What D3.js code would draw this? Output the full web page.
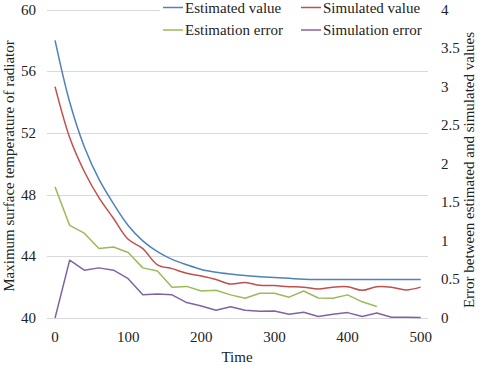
<!DOCTYPE html>
<html lang="en">
<head>
    <meta charset="UTF-8">
    <title>Radiator temperature: estimated vs simulated</title>
    <script src="https://d3js.org/d3.v7.min.js"></script>
    <style>
        body { margin: 0; background: #fff; }
        svg { display: block; }
        text { font-family: "Liberation Serif", "Times New Roman", serif; fill: #222; }
        .grid line { stroke: #d9d9d9; stroke-width: 1; }
        .tick-label { font-size: 15px; }
        .title { font-size: 15px; }
        .legend text { font-size: 15px; }
    </style>
</head>
<body>
    <svg id="chart"></svg>

    <script>
        // time steps
        const times = [0, 20, 40, 60, 80, 100, 120, 140, 160, 180, 200, 220, 240, 260,
                       280, 300, 320, 340, 360, 380, 400, 420, 440, 460, 480, 500];

        // left axis series (temperature)
        const estimatedValue = [58, 54.0, 51.1, 49.0, 47.4, 46.0, 45.0, 44.3, 43.8, 43.45, 43.15,
                                42.97, 42.85, 42.75, 42.68, 42.62, 42.57, 42.52, 42.5, 42.5,
                                42.5, 42.5, 42.5, 42.5, 42.5, 42.5];
        const simulatedValue = [55, 51.7, 49.5, 47.8, 46.45, 45.1, 44.5, 43.45, 43.2, 42.9, 42.72,
                                42.5, 42.2, 42.3, 42.12, 42.1, 42.03, 42.0, 41.88, 42.0,
                                42.03, 41.8, 42.03, 42.0, 41.82, 42.0];

        // right axis series (errors); estimation error stops at 440
        const estimationError = [1.7, 1.2, 1.1, 0.9, 0.92, 0.85, 0.65, 0.61, 0.40, 0.41, 0.35,
                                 0.36, 0.30, 0.255, 0.32, 0.32, 0.27, 0.35, 0.26, 0.255,
                                 0.30, 0.21, 0.15];
        const simulationError = [0, 0.75, 0.62, 0.65, 0.62, 0.51, 0.30, 0.31, 0.30, 0.20, 0.155,
                                 0.10, 0.145, 0.10, 0.087, 0.09, 0.05, 0.075, 0.02, 0.05,
                                 0.07, 0.02, 0.065, 0.01, 0.01, 0.005];

        const xTicks = [0, 100, 200, 300, 400, 500];
        const leftTicks = [40, 44, 48, 52, 56, 60];
        const rightTicks = [0, 0.5, 1, 1.5, 2, 2.5, 3, 3.5, 4];

        const width = 480, height = 365;

        const svg = d3.select("#chart")
            .attr("width", width)
            .attr("height", height);

        // plot area runs a bit past the data on both sides (like the original)
        const x = d3.scaleLinear().domain([-11, 510]).range([47, 428]);
        const yLeft = d3.scaleLinear().domain([40, 60]).range([318, 9.5]);
        const yRight = d3.scaleLinear().domain([0, 4]).range([318, 9.5]);

        // horizontal gridlines
        svg.append("g").attr("class", "grid")
            .selectAll("line")
            .data(leftTicks)
            .enter().append("line")
            .attr("x1", x(-11))
            .attr("x2", x(510))
            .attr("y1", d => Math.round(yLeft(d)) + 0.5)
            .attr("y2", d => Math.round(yLeft(d)) + 0.5);

        // left tick labels
        svg.append("g")
            .selectAll("text")
            .data(leftTicks)
            .enter().append("text")
            .attr("class", "tick-label")
            .attr("x", 36)
            .attr("y", d => yLeft(d) + 5)
            .attr("text-anchor", "end")
            .text(d => d);

        // right tick labels
        svg.append("g")
            .selectAll("text")
            .data(rightTicks)
            .enter().append("text")
            .attr("class", "tick-label")
            .attr("x", 441)
            .attr("y", d => yRight(d) + 5)
            .attr("text-anchor", "start")
            .text(d => d);

        // x tick labels
        svg.append("g")
            .selectAll("text")
            .data(xTicks)
            .enter().append("text")
            .attr("class", "tick-label")
            .attr("x", d => x(d))
            .attr("y", 342)
            .attr("text-anchor", "middle")
            .text(d => d);

        // axis titles
        svg.append("text")
            .attr("class", "title")
            .attr("x", 237)
            .attr("y", 362)
            .attr("text-anchor", "middle")
            .text("Time");

        svg.append("text")
            .attr("class", "title")
            .attr("transform", "translate(14,166) rotate(-90)")
            .attr("text-anchor", "middle")
            .text("Maximum surface temperature of radiator");

        svg.append("text")
            .attr("class", "title")
            .attr("transform", "translate(474,170) rotate(-90)")
            .attr("text-anchor", "middle")
            .text("Error between estimated and simulated values");

        // series
        const series = [
            { name: "Estimated value", values: estimatedValue, y: yLeft, color: "#4F81BD", curve: d3.curveCatmullRom },
            { name: "Simulated value", values: simulatedValue, y: yLeft, color: "#C0504D", curve: d3.curveCatmullRom },
            { name: "Estimation error", values: estimationError, y: yRight, color: "#9BBB59", curve: d3.curveLinear },
            { name: "Simulation error", values: simulationError, y: yRight, color: "#8064A2", curve: d3.curveLinear }
        ];

        series.forEach(s => {
            const line = d3.line()
                .x((d, i) => x(times[i]))
                .y(d => s.y(d))
                .curve(s.curve);
            svg.append("path")
                .datum(s.values)
                .attr("fill", "none")
                .attr("stroke", s.color)
                .attr("stroke-width", 1.5)
                .attr("stroke-linejoin", "round")
                .attr("d", line);
        });

        // legend, two rows of two, on a white box over the top gridline
        const legend = svg.append("g").attr("class", "legend");
        legend.append("rect")
            .attr("x", 160).attr("y", 0)
            .attr("width", 268).attr("height", 42)
            .attr("fill", "#fff");

        const legendPos = [
            { lx: 163, ly: 7.5 }, { lx: 301, ly: 7.5 },
            { lx: 163, ly: 30 }, { lx: 301, ly: 30 }
        ];

        legend.selectAll("g.item")
            .data(series)
            .enter().append("g")
            .attr("class", "item")
            .each(function(d, i) {
                const g = d3.select(this);
                const p = legendPos[i];
                g.append("line")
                    .attr("x1", p.lx).attr("x2", p.lx + 20)
                    .attr("y1", p.ly).attr("y2", p.ly)
                    .attr("stroke", d.color)
                    .attr("stroke-width", 1.5);
                g.append("text")
                    .attr("x", p.lx + 22)
                    .attr("y", p.ly + 5)
                    .text(d.name);
            });
    </script>
</body>
</html>
